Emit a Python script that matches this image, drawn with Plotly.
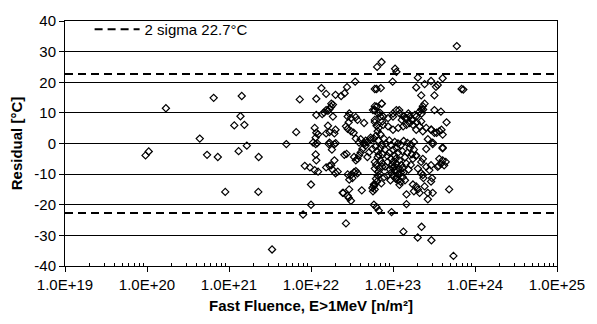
import plotly.graph_objects as go

# Fast fluence E>1MeV [n/m^2] and residual [degC]
fluence = [
    9.6e19, 1.05e20, 1.7e20, 4.4e20, 5.4e20, 6.5e20, 7.3e20, 9.0e20, 1.16e21, 1.31e21,
    1.38e21, 1.43e21, 1.54e21, 1.65e21, 2.28e21, 2.3e21, 3.35e21, 5.0e21, 6.6e21, 7.3e21,
    8.0e21, 8.4e21, 9.7e21, 1.0e22, 1.0e22,
    1.06e22, 1.11e22, 1.16e22, 1.22e22, 1.14e22, 1.19e22, 1.16e22, 1.16e22, 1.14e22, 1.14e22,
    1.16e22, 1.11e22, 1.22e22, 1.34e22, 1.37e22, 1.44e22, 1.53e22, 1.61e22, 1.68e22, 1.76e22,
    1.85e22, 1.85e22, 1.61e22, 1.53e22, 1.68e22, 1.99e22, 1.93e22, 1.68e22, 2.0e22, 1.65e22,
    1.93e22, 1.8e22, 1.53e22, 1.68e22, 1.81e22, 1.99e22, 2.12e22, 1.76e22, 1.93e22, 1.99e22,
    2.33e22, 1.53e22, 1.77e22,
    2.75e22, 3.46e22, 2.57e22, 2.93e22, 2.8e22, 3.07e22, 3.52e22, 3.69e22, 2.88e22, 2.67e22,
    2.8e22, 3.07e22, 3.31e22, 4.44e22, 3.52e22, 3.86e22, 4.44e22, 4.87e22, 5.33e22, 5.84e22,
    5.7e22, 6.0e22, 6.0e22, 6.3e22, 7.1e22, 6.4e22, 7.25e22, 7.3e22, 6.3e22, 6.0e22,
    2.55e22, 2.72e22, 3.35e22, 3.52e22, 3.69e22, 3.86e22, 4.04e22, 4.23e22, 4.64e22, 4.87e22,
    5.1e22, 5.6e22, 4.44e22,
    2.8e22, 3.07e22, 3.35e22, 3.52e22, 3.2e22, 2.93e22, 3.69e22,
    2.43e22, 2.8e22, 3.07e22, 2.88e22, 4.16e22, 5.84e22, 5.7e22, 2.67e22, 2.48e22, 2.92e22,
    6.3e22, 6.7e22, 9.6e22, 6.7e22,
    6.9e22, 7.6e22, 8.7e22, 1.0e23, 1.1e23, 1.21e23, 1.33e23, 1.46e23, 1.6e23, 1.75e23, 1.92e23,
    7.6e22, 6.7e22, 8.7e22, 1.0e23, 1.16e23, 1.33e23, 1.46e23, 1.6e23, 1.75e23, 1.92e23,
    2.21e23, 2.11e23, 2.31e23, 2.54e23,
    2.91e23, 3.2e23, 3.67e23, 4.03e23, 2.66e23, 3.05e23, 4.03e23,
    2.43e23, 2.31e23, 2.21e23, 2.11e23, 3.2e23, 3.84e23, 4.5e23, 2.21e23, 3.2e23, 6.87e23,
    7.2e23, 6.0e23,
    1.06e23, 1.1e23, 9.9e22, 2.01e23, 1.92e23, 2.43e23, 2.91e23, 3.34e23, 3.51e23, 4.03e23,
    6.0e22, 6.3e22, 6.5e22, 6.2e22, 6.6e22, 7.0e22, 7.3e22, 6.1e22, 6.4e22, 7.0e22,
    7.8e22, 8.2e22, 9.0e22, 9.5e22, 1.05e23, 1.15e23, 1.25e23, 1.35e23, 1.5e23, 1.65e23, 1.8e23,
    6.5e22, 7.0e22, 7.5e22, 8.0e22, 8.5e22, 9.0e22, 9.5e22, 1.0e23, 1.05e23, 1.1e23,
    1.15e23, 1.2e23, 1.3e23, 1.4e23, 1.5e23, 1.6e23, 1.7e23, 1.8e23, 1.9e23,
    6.2e22, 6.8e22, 7.4e22, 8.0e22, 8.6e22, 9.2e22, 9.8e22, 1.04e23, 1.1e23, 1.18e23,
    1.26e23, 1.35e23, 1.45e23, 1.55e23, 1.65e23,
    7.0e22, 7.8e22, 8.5e22, 9.3e22, 1.0e23, 1.08e23, 1.15e23, 1.24e23, 1.32e23, 1.4e23, 1.2e23,
    6.0e22, 6.0e22, 5.6e22, 6.4e22, 7.2e22,
    2.54e23, 3.05e23, 4.03e23, 3.67e23, 4.03e23, 4.2e23, 3.84e23, 3.51e23, 2.31e23, 2.21e23,
    2.54e23, 2.91e23, 2.78e23, 2.21e23, 1.92e23, 1.75e23, 2.01e23,
    1.75e23, 1.92e23, 2.11e23, 2.01e23, 1.8e23, 2.43e23, 2.66e23, 2.99e23, 2.91e23, 3.05e23,
    4.84e23, 1.46e23, 2.66e23, 1.46e23, 2.31e23, 2.35e23,
    1.34e23, 2.23e23, 2.0e23, 2.94e23, 5.46e23, 5.85e22,
    1.0e23, 1.19e23, 1.28e23, 1.4e23, 1.54e23, 1.69e23, 1.85e23, 1.94e23, 2.23e23, 2.33e23,
    6.0e22, 7.3e22, 6.0e22, 6.6e22, 7.0e22, 7.4e22,
    4.04e22, 4.64e22, 5.33e22,
    1.0e23, 1.05e23, 1.12e23, 1.08e23, 1.2e23, 1.3e23, 1.15e23, 1.25e23, 9.5e22, 1.0e23, 1.1e23,
    5.8e22, 6.2e22, 6.5e22, 6.0e22, 7.4e22, 6.0e22, 6.6e22,
    2.94e23, 3.4e23, 3.9e23, 4.4e23, 3.6e23,
]
residual = [
    -3.9, -2.6, 11.5, 1.6, -3.7, 14.9, -4.4, -15.8, 5.9, -2.5,
    8.9, 15.5, 6.1, -0.7, -15.8, -4.4, -34.6, -0.2, 3.7, 14.4,
    -23.2, -7.3, -7.8, -13.4, -20.0,
    0.3, 5.1, 3.5, 3.0, 1.9, 0.1, 9.3, 14.6, -0.2, -3.6,
    -5.5, -8.7, -9.2, 18.1, 9.6, 10.1, 10.9, 10.7, 11.2, 12.0,
    12.7, 8.8, 5.8, 3.3, 3.7, 4.5, 3.3, 0.3, 0.1, -0.2,
    -0.2, -2.0, -7.8, -7.3, -8.4, -9.7, -9.2, -7.1, -5.5, 15.9,
    15.5, 16.2, 13.0,
    18.4, 20.2, 16.4, 9.8, 8.8, 8.3, 8.6, 7.7, 6.9, 5.6,
    4.8, 4.0, 3.5, 6.7, 1.6, 0.3, 0.3, 0.5, 1.2, 1.6,
    10.9, 12.2, 17.8, 17.8, 18.1, 25.0, 26.6, 13.0, 12.0, 10.9,
    -3.7, -3.4, -4.4, -5.5, -5.0, -3.9, -2.9, -1.8, -0.7, -4.4,
    -2.9, -1.8, -0.2,
    -10.1, -10.3, -9.4, -9.0, -11.3, -11.8, -9.7,
    -16.1, -17.1, -18.7, -17.7, -15.3, -13.4, -15.6, -26.1, -16.1, -15.0,
    -20.8, -21.9, -22.4, -3.7,
    10.1, 8.8, 8.3, 8.8, 10.9, 9.8, 9.0, 8.3, 8.8, 7.7, 8.8,
    6.1, 5.1, 5.6, 4.5, 5.1, 5.6, 6.1, 6.7, 6.1, 4.5,
    7.2, 5.6, 4.0, 5.1,
    4.5, 3.5, 4.0, 2.9, 1.4, 0.3, -1.3,
    13.0, 12.2, 11.1, 10.4, 10.9, 10.4, 6.9, 15.7, 15.7, 17.8,
    17.6, 31.8,
    24.4, 23.4, 20.2, 21.5, 18.3, 19.4, 20.4, 18.5, 19.1, 21.3,
    7.0, 5.8, 4.0, 2.5, 1.0, 3.0, -0.5, -1.0, -2.5, -1.5,
    1.5, 0.0, 1.0, -0.5, 0.5, 0.0, -0.5, 0.8, 0.2, -0.3, 0.5,
    -4.5, -5.5, -3.5, -2.0, -4.0, -3.0, -5.0, -2.0, -4.0, -1.5,
    -3.0, -5.5, -2.5, -4.5, -3.0, -1.5, -3.5, -2.0, -4.0,
    -7.0, -8.0, -6.5, -7.5, -6.0, -8.5, -7.0, -9.0, -6.5, -8.0,
    -7.0, -9.5, -6.5, -8.5, -7.0,
    -10.0, -11.0, -10.5, -12.0, -10.5, -11.5, -10.0, -12.5, -11.0, -12.0, -13.5,
    -15.0, -13.4, -14.5, -12.4, -13.0,
    -1.8, -0.2, -1.6, -5.0, -5.5, -7.1, -6.6, -7.6, -5.0, -6.0,
    -7.6, -7.1, -8.7, -9.7, -3.9, -5.0, -8.2,
    -13.4, -14.0, -16.1, -15.0, -15.6, -14.0, -16.1, -11.3, -12.4, -16.1,
    -15.0, -16.6, -18.2, -19.8, -10.3, -11.3,
    -28.8, -27.2, -30.7, -31.6, -36.7, -20.0,
    9.8, 10.9, 7.7, 8.3, 9.8, 7.7, 9.3, 6.9, 9.8, 11.1,
    7.7, 13.0, 10.9, 9.8, 8.8, 7.2,
    1.4, 0.9, 1.9,
    -6.0, -7.5, -9.0, -5.0, -10.0, -8.0, -12.0, -9.5, -9.5, -8.0, -11.0,
    -14.0, -11.5, -10.5, -6.0, -7.6, -8.2, -9.2,
    4.5, 3.5, 4.5, -6.0, -7.3,
]

sigma2 = 22.7
sigma_label = "2 sigma 22.7°C"

x_tickvals = [1e19, 1e20, 1e21, 1e22, 1e23, 1e24, 1e25]
x_ticktext = ["1.0E+19", "1.0E+20", "1.0E+21", "1.0E+22", "1.0E+23", "1.0E+24", "1.0E+25"]
y_tickvals = [-40, -30, -20, -10, 0, 10, 20, 30, 40]
y_ticktext = ["-40", "-30", "-20", "-10", "0", "10", "20", "30", "40"]

minor_vals = [m * d for d in x_tickvals[:-1] for m in range(2, 10)]

FONT = "Liberation Sans, Arial, sans-serif"

fig = go.Figure()
fig.add_trace(go.Scatter(
    x=fluence, y=residual, mode="markers", showlegend=False,
    marker=dict(symbol="diamond-open", size=5.5, color="black", line=dict(width=1.2, color="black")),
))
fig.add_trace(go.Scatter(
    x=[x_tickvals[0], x_tickvals[-1], None, x_tickvals[0], x_tickvals[-1]],
    y=[sigma2, sigma2, None, -sigma2, -sigma2],
    mode="lines", name=sigma_label, connectgaps=False,
    line=dict(color="black", width=2, dash="8px,5px"),
))

fig.update_layout(
    width=597, height=324,
    margin=dict(l=65, r=33, t=15, b=57),
    paper_bgcolor="white", plot_bgcolor="white",
    font=dict(family=FONT, size=15, color="black"),
    showlegend=True,
    legend=dict(x=0.05, y=1.033, xanchor="left", yanchor="top",
                bgcolor="rgba(0,0,0,0)", font=dict(size=15), itemwidth=45),
    xaxis=dict(
        type="log", range=[19, 25], tickmode="array", tickvals=x_tickvals, ticktext=x_ticktext,
        ticks="outside", ticklen=5, tickwidth=1, tickcolor="black",
        showline=True, linecolor="black", linewidth=1, mirror=True,
        showgrid=False, zeroline=False,
        minor=dict(tickmode="array", tickvals=minor_vals, ticks="inside", ticklen=3,
                   tickwidth=1, tickcolor="black", showgrid=False),
        tickfont=dict(size=15),
        title=dict(text="<b>Fast Fluence, E>1MeV [n/m²]</b>", font=dict(size=15), standoff=8),
    ),
    yaxis=dict(
        range=[-40, 40], tickmode="array", tickvals=y_tickvals, ticktext=y_ticktext,
        ticks="outside", ticklen=5, tickwidth=1, tickcolor="black",
        showline=True, linecolor="black", linewidth=1, mirror=True,
        showgrid=True, gridcolor="black", gridwidth=1, zeroline=False,
        tickfont=dict(size=15),
        title=dict(text="<b>Residual [°C]</b>", font=dict(size=15), standoff=8),
    ),
)

fig.write_html("out.html")
